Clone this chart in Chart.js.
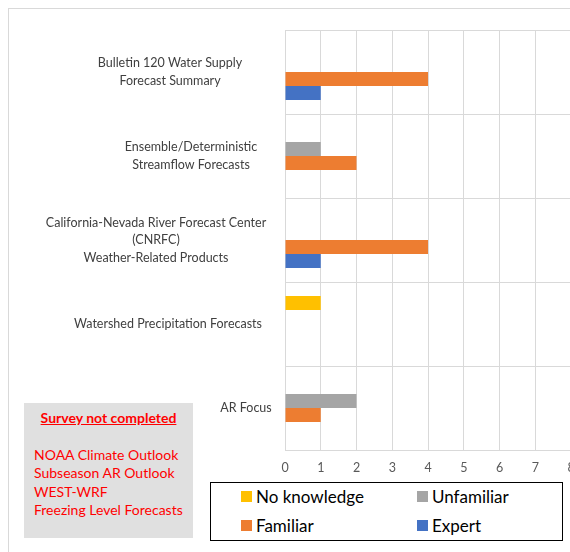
<!DOCTYPE html>
<html>
<head>
<meta charset="utf-8">
<script src="https://cdn.jsdelivr.net/npm/chart.js@4"></script>
<style>
  html, body { margin: 0; padding: 0; background: #fff; }
  #wrap { position: relative; width: 570px; height: 552px; overflow: hidden; font-family: Lato, 'Liberation Sans', sans-serif; }
  #frame { position: absolute; left: 8px; top: 8px; width: 700px; height: 700px; border: 1px solid #d9d9d9; }
  canvas { position: absolute; left: 0; top: 0; }
  #note { position: absolute; left: 24px; top: 403px; width: 169px; height: 135px; background: #e0e0e0; color: #ff0000; font-size: 14px; }
  #note .title { position: absolute; left: 0; width: 100%; top: 6px; text-align: center; font-weight: bold; text-decoration: underline; }
  #note .list { position: absolute; left: 10px; top: 43px; line-height: 18.3px; }
  #legend { position: absolute; left: 210px; top: 482px; width: 353px; height: 59px; box-sizing: border-box; border: 1px solid #000; background: #fff; }
  #legend .item { position: absolute; display: flex; align-items: center; font-size: 17px; color: #000; height: 20px; }
  #legend .sw { width: 11px; height: 11px; margin-right: 4px; }
</style>
</head>
<body>
<div id="wrap">
  <div id="frame"></div>
  <canvas id="chart" width="600" height="552"></canvas>
  <div id="note">
    <div class="title">Survey not completed</div>
    <div class="list">NOAA Climate Outlook<br>Subseason AR Outlook<br>WEST-WRF<br>Freezing Level Forecasts</div>
  </div>
  <div id="legend"></div>
</div>
<script>
// categories, each label split into its display lines
const categories = [
  ['Bulletin 120 Water Supply', 'Forecast Summary'],
  ['Ensemble/Deterministic', 'Streamflow Forecasts'],
  ['California-Nevada River Forecast Center', '(CNRFC)', 'Weather-Related Products'],
  ['Watershed Precipitation Forecasts'],
  ['AR Focus']
];

const noKnowledge = [0, 0, 0, 1, 0];
const unfamiliar  = [0, 1, 0, 0, 2];
const familiar    = [4, 2, 4, 0, 1];
const expert      = [1, 0, 1, 0, 0];

const xTicks = [0, 1, 2, 3, 4, 5, 6, 7, 8];

const COLORS = {
  noKnowledge: '#FFC000',
  unfamiliar: '#A5A5A5',
  familiar: '#ED7D31',
  expert: '#4472C4',
  grid: '#D9D9D9',
  text: '#404040'
};

// label centre x for each category (labels are centred per block, like the original)
const LABEL_CENTERS = [170, 191, 156, 168, 246];

const categoryLabels = {
  id: 'categoryLabels',
  afterDraw(chart) {
    const ctx = chart.ctx;
    const y = chart.scales.y;
    const lineH = 17.5;
    ctx.save();
    ctx.font = '12.5px Lato, "Liberation Sans", sans-serif';
    ctx.fillStyle = COLORS.text;
    ctx.textAlign = 'center';
    ctx.textBaseline = 'middle';
    categories.forEach((lines, i) => {
      const cy = y.getPixelForValue(i);
      const top = cy - (lines.length - 1) * lineH / 2;
      lines.forEach((ln, j) => ctx.fillText(ln, LABEL_CENTERS[i], top + j * lineH));
    });
    ctx.restore();
  }
};

const bar = (label, data, color) => ({
  label, data,
  backgroundColor: color,
  borderWidth: 0,
  categoryPercentage: 0.667,
  barPercentage: 1.0
});

const chart = new Chart(document.getElementById('chart').getContext('2d'), {
  type: 'bar',
  data: {
    labels: categories.map(l => l.join(' ')),
    datasets: [
      bar('No knowledge', noKnowledge, COLORS.noKnowledge),
      bar('Unfamiliar', unfamiliar, COLORS.unfamiliar),
      bar('Familiar', familiar, COLORS.familiar),
      bar('Expert', expert, COLORS.expert)
    ]
  },
  options: {
    indexAxis: 'y',
    responsive: false,
    animation: false,
    layout: { padding: { top: 30, right: 29, bottom: 72, left: 0 } },
    plugins: { legend: { display: false }, tooltip: { enabled: false } },
    scales: {
      x: {
        min: xTicks[0],
        max: xTicks[xTicks.length - 1],
        afterBuildTicks: s => { s.ticks = xTicks.map(v => ({ value: v })); },
        ticks: { color: '#595959', font: { size: 12.5, family: 'Lato' }, padding: 10 },
        grid: { color: COLORS.grid, drawTicks: false },
        border: { display: false },
        afterFit: s => { s.height = 30; }
      },
      y: {
        ticks: { display: false },
        grid: { color: COLORS.grid, offset: true, drawTicks: false },
        border: { color: COLORS.grid },
        afterFit: s => { s.width = 285; }
      }
    }
  },
  plugins: [categoryLabels]
});

// legend as a boxed 2x2 grid, built from the datasets
const legendEl = document.getElementById('legend');
const slots = [[30, 3], [206, 3], [30, 32], [206, 32]];
chart.data.datasets.forEach((ds, i) => {
  const item = document.createElement('div');
  item.className = 'item';
  item.style.left = slots[i][0] + 'px';
  item.style.top = slots[i][1] + 'px';
  item.innerHTML = '<span class="sw" style="background:' + ds.backgroundColor + '"></span>' + ds.label;
  legendEl.appendChild(item);
});
</script>
</body>
</html>
